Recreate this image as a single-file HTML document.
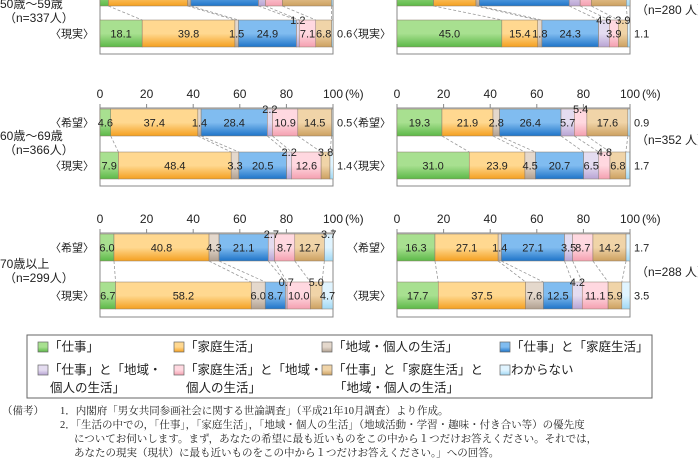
<!DOCTYPE html>
<html><head><meta charset="utf-8">
<style>
body{margin:0;background:#fff;width:698px;height:460px;overflow:hidden;font-family:"Liberation Sans","Noto Sans CJK JP",sans-serif;}
svg{position:absolute;left:0;top:0}
.note{position:absolute;font-family:"Liberation Serif","Noto Serif CJK SC",serif;font-size:10.5px;color:#222;white-space:nowrap;}
</style></head>
<body>
<svg id="chart" width="698" height="460"></svg>
<div class="note" style="left:2px;top:403px">（備考）</div>
<div class="note" style="left:60px;top:403px">1．内閣府「男女共同参画社会に関する世論調査」（平成21年10月調査）より作成。</div>
<div class="note" style="left:60px;top:417px">2．「生活の中での，「仕事」，「家庭生活」，「地域・個人の生活」（地域活動・学習・趣味・付き合い等）の優先度</div>
<div class="note" style="left:74px;top:431px">についてお伺いします。まず，あなたの希望に最も近いものをこの中から１つだけお答えください。それでは，</div>
<div class="note" style="left:74px;top:445px">あなたの現実（現状）に最も近いものをこの中から１つだけお答えください。」への回答。</div>
<script>
const categories=["「仕事」","「家庭生活」","「地域・個人の生活」","「仕事」と「家庭生活」","「仕事」と「地域・個人の生活」","「家庭生活」と「地域・個人の生活」","「仕事」と「家庭生活」と「地域・個人の生活」","わからない"];
const ticks=[0,20,40,60,80,100];
const hope50=[3.6,34.0,1.4,29.0,3.0,7.3,21.0,0.7];
const real50=[18.1,39.8,1.5,24.9,1.2,7.1,6.8,0.6];
const hopeR1=[15.7,18.2,1.4,38.6,4.7,4.8,15.0,1.6];
const realR1=[45.0,15.4,1.8,24.3,4.6,3.9,3.9,1.1];
const hope60=[4.6,37.4,1.4,28.4,2.2,10.9,14.5,0.5];
const real60=[7.9,48.4,3.3,20.5,2.2,12.6,3.8,1.4];
const hopeR2=[19.3,21.9,2.8,26.4,5.7,5.4,17.6,0.9];
const realR2=[31.0,23.9,4.5,20.7,6.5,4.8,6.8,1.7];
const hope70=[6.0,40.8,4.3,21.1,2.7,8.7,12.7,3.7];
const real70=[6.7,58.2,6.0,8.7,0.7,10.0,5.0,4.7];
const hopeR3=[16.3,27.1,1.4,27.1,3.5,8.7,14.2,1.7];
const realR3=[17.7,37.5,7.6,12.5,4.2,11.1,5.9,3.5];

const colors=[["#a8e090","#5cb848"],["#ffd890","#f4a020"],["#e4d8cc","#b0a090"],["#80bcf0","#1e74c8"],["#e4dcf0","#b8a4d4"],["#ffd8e0","#f4a0b0"],["#f0d4a8","#cca060"],["#e0f4ff","#a0d8f4"]];
const svg=document.getElementById('chart');
const NS='http://www.w3.org/2000/svg';
function mk(t,a){const e=document.createElementNS(NS,t);for(const k in a)e.setAttribute(k,a[k]);svg.appendChild(e);return e;}
const defs=mk('defs',{});
colors.forEach((c,i)=>{const g=document.createElementNS(NS,'linearGradient');g.setAttribute('id','g'+i);g.setAttribute('x1','0');g.setAttribute('y1','0');g.setAttribute('x2','0');g.setAttribute('y2','1');
[[0,c[0]],[0.5,c[0]],[1,c[1]]].forEach(s=>{const st=document.createElementNS(NS,'stop');st.setAttribute('offset',s[0]);st.setAttribute('stop-color',s[1]);g.appendChild(st);});defs.appendChild(g);});
function txt(x,y,s,o){const e=mk('text',Object.assign({x:x,y:y,'font-size':11,fill:'#222'},o||{}));e.textContent=s;return e;}

const panels=[
 {x0:100,top:-22,hy:-21,ry:20,bot:54,hope:hope50,real:real50,hm:"nnnnnnnn",rm:"iiiiuiio",axis:false,age:["50歳～59歳","（n=337人）"],ay:8,n:null},
 {x0:397,top:-22,hy:-21,ry:20,bot:54,hope:hopeR1,real:realR1,hm:"nnnnnnnn",rm:"iiiiuiuo",axis:false,age:null,n:"（n=280 人）",ny:14},
 {x0:100,top:108,hy:109,ry:152,bot:186,hope:hope60,real:real60,hm:"iiiiuiio",rm:"iiiiuiuo",axis:true,age:["60歳～69歳","（n=366人）"],ay:140},
 {x0:397,top:108,hy:109,ry:152,bot:186,hope:hopeR2,real:realR2,hm:"iiiiiuio",rm:"iiiiiuio",axis:true,age:null,n:"（n=352 人）",ny:144},
 {x0:100,top:233,hy:234,ry:282,bot:317,hope:hope70,real:real70,hm:"iiiiuiiu",rm:"iiiiuiui",axis:true,age:["70歳以上","（n=299人）"],ay:268},
 {x0:397,top:233,hy:234,ry:282,bot:317,hope:hopeR3,real:realR3,hm:"iiiiiiio",rm:"iiiiuiio",axis:true,age:null,n:"（n=288 人）",ny:276}
];
const W=233,BH=27;
panels.forEach((p,pi)=>{
 const xs=v=>p.x0+v/100*W;
 const fr=mk('rect',{x:p.x0,y:p.top,width:W,height:p.bot-p.top,fill:'#fff',stroke:'#888','stroke-width':1});
 
 if(p.axis){ticks.forEach(t=>{const l=txt(xs(t),p.top-10,String(t),{'font-size':12,'text-anchor':'middle'});
   const tk=mk('line',{x1:xs(t),x2:xs(t),y1:p.top-4,y2:p.top,stroke:'#888'});});
   const u=txt(xs(100)+12,p.top-10,'(%)',{'font-size':12});}
 const rows=[[p.hope,p.hy,p.hm,'〈希望〉','hope'],[p.real,p.ry,p.rm,'〈現実〉','real']];
 rows.forEach(([vals,y,mode,lab,kind])=>{
  let c=0;
  vals.forEach((v,i)=>{const x=xs(c),w=xs(c+v)-x;
   const r=mk('rect',{x:x,y:y,width:Math.max(w,0),height:BH,fill:'url(#g'+i+')',stroke:'#8a7a6a','stroke-width':0.5});
   
   c+=v;});
 });
 let ch=0,cr=0;
 for(let i=0;i<7;i++){ch+=p.hope[i];cr+=p.real[i];
  const d=mk('line',{x1:xs(ch),y1:p.hy+BH,x2:xs(cr),y2:p.ry,stroke:'#999','stroke-width':0.8,'stroke-dasharray':'3,2'});
  }
 rows.forEach(([vals,y,mode,lab,kind])=>{
  let c=0;
  vals.forEach((v,i)=>{const x=xs(c),w=xs(c+v)-x;
   const m=mode[i],s=v.toFixed(1);let t=null;
   if(m==='i')t=txt(x+w/2,y+BH/2+4,s,{'text-anchor':'middle'});
   else if(m==='u')t=txt(x+w/2,y+4,s,{'text-anchor':'middle'});
   else if(m==='o')t=txt(xs(100)+4,y+BH/2+4,s);
   if(t){}
   c+=v;});
  if(y+BH>0){const l=txt(p.x0-6,y+BH/2+4,lab,{'font-size':11,'text-anchor':'end'});}
 });
 if(p.age){const a=txt(0,p.ay,p.age[0],{'font-size':12});
  const b=txt(4,p.ay+14,p.age[1],{'font-size':12});}
 if(p.n){const b=txt(636,p.ny,p.n,{'font-size':12});}
});
// legend
const lb=mk('rect',{x:27,y:335,width:625,height:63,fill:'#fff',stroke:'#666'});

const legLines=[["「仕事」"],["「家庭生活」"],["「地域・個人の生活」"],["「仕事」と「家庭生活」"],["「仕事」と「地域・","個人の生活」"],["「家庭生活」と「地域・","個人の生活」"],["「仕事」と「家庭生活」と","「地域・個人の生活」"],["わからない"]];
const lx=[38,174,322,500];
legLines.forEach((ls,i)=>{const x=lx[i%4],y=i<4?351:374;
 const sw=mk('rect',{x:x,y:y-9,width:10,height:10,fill:'url(#g'+i+')',stroke:'#666','stroke-width':0.7});
 
 ls.forEach((s,j)=>{const t=txt(x+(j?12:11),y+j*18,s,{'font-size':12.5});});
});
</script>
</body></html>
